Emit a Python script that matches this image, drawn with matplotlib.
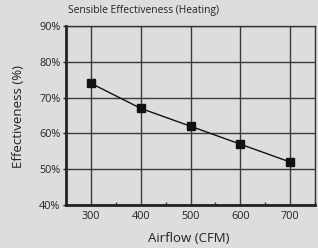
import matplotlib
matplotlib.use('Agg')
import matplotlib.pyplot as plt
from matplotlib.ticker import MultipleLocator

# Data
airflow = [300, 400, 500, 600, 700]
effectiveness = [74, 67, 62, 57, 52]
y_ticks = [40, 50, 60, 70, 80, 90]
y_tick_labels = ['40%', '50%', '60%', '70%', '80%', '90%']

plt.rcParams['font.family'] = ['Open Sans', 'DejaVu Sans']
bg = '#dcdddf'

fig = plt.figure(figsize=(3.18, 2.48), dpi=100, facecolor=bg)
ax = fig.add_axes([66 / 318, 1 - 205 / 248, (315 - 66) / 318, (205 - 26) / 248])
ax.set_facecolor(bg)

ax.plot(airflow, effectiveness, color='#111111', linewidth=1, marker='s',
        markersize=6, markerfacecolor='#111111', markeredgecolor='#111111', zorder=3)

ax.set_xlim(250, 750)
ax.set_ylim(40, 90)
ax.set_xticks(airflow)
ax.xaxis.set_minor_locator(MultipleLocator(50))
ax.set_yticks(y_ticks)
ax.set_yticklabels(y_tick_labels)

ax.grid(True, which='major', color='#3a3a3a', linewidth=1)
ax.tick_params(axis='x', which='major', length=0, labelsize=7.8, colors='#222222', pad=4)
ax.tick_params(axis='y', which='major', length=2, width=1, labelsize=7.8,
               color='#222222', labelcolor='#222222', pad=2)
ax.tick_params(axis='x', which='minor', length=2, direction='in', width=1, color='#333333')

for side in ['left', 'bottom']:
    ax.spines[side].set_linewidth(2)
    ax.spines[side].set_color('#222222')
for side in ['top', 'right']:
    ax.spines[side].set_linewidth(1)
    ax.spines[side].set_color('#333333')

fig.text(68 / 318, 1 - 11 / 248, 'Sensible Effectiveness (Heating)', fontsize=7.4,
         color='#222222', ha='left', va='center')
fig.text(19 / 318, 1 - 117 / 248, 'Effectiveness (%)', fontsize=9.5, rotation=90,
         color='#222222', ha='center', va='center')
fig.text(189 / 318, 1 - 238 / 248, 'Airflow (CFM)', fontsize=9.5,
         color='#222222', ha='center', va='center')

fig.savefig('out.png', dpi=100, facecolor=bg)
